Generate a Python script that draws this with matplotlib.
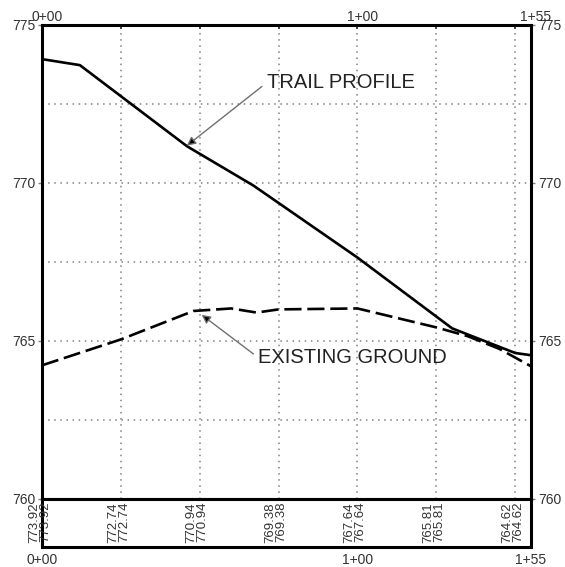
import matplotlib
matplotlib.use("Agg")
import matplotlib.pyplot as plt
from matplotlib.transforms import offset_copy, ScaledTranslation

plt.rcParams['font.family'] = ['Liberation Sans', 'DejaVu Sans']

# trail profile (proposed grade), station in ft, elevation in ft
trail_sta = [0, 12, 46, 67, 100, 130, 150, 155]
trail_elev = [773.92, 773.73, 771.16, 769.92, 767.64, 765.40, 764.62, 764.55]

# existing ground
ground_sta = [0, 25, 48, 60, 68, 75, 100, 125, 135, 145, 155]
ground_elev = [764.23, 765.05, 765.95, 766.03, 765.90, 766.00, 766.03, 765.43, 765.15, 764.75, 764.20]

# elevations printed in the band under the profile
band_sta = [0, 25, 50, 75, 100, 125, 150]
band_vals = ["773.92", "772.74", "770.94", "769.38", "767.64", "765.81", "764.62"]

elev_ticks = [760, 765, 770, 775]
sta_ticks = [0, 100, 155]
sta_labels = ["0+00", "1+00", "1+55"]

W, H = 565, 567
fig = plt.figure(figsize=(W / 100, H / 100), dpi=100)
ax = fig.add_axes([42 / W, 1 - 499 / H, (531 - 42) / W, (499 - 25) / H])
band = fig.add_axes([42 / W, 1 - 547 / H, (531 - 42) / W, (547 - 499) / H])

ax.set_xlim(0, 155)
ax.set_ylim(760, 775)

# dotted grid
for s in range(25, 155, 25):
    ax.axvline(s, color='#808080', lw=1.1, ls=(0, (1, 3)), zorder=1)
for e in [762.5, 765, 767.5, 770, 772.5]:
    ax.axhline(e, color='#808080', lw=1.1, ls=(0, (1, 3)), zorder=1)

ax.plot(trail_sta, trail_elev, color='black', lw=1.9, zorder=3)
ax.plot(ground_sta, ground_elev, color='black', lw=1.9, dashes=(6.5, 2.2), zorder=3)

arrow = dict(arrowstyle='-|>', ec='#707070', fc='black', lw=1.0,
             mutation_scale=13, shrinkA=2, shrinkB=0, relpos=(0, 0.5))
ax.annotate("TRAIL PROFILE", xy=(45.9, 771.18), xytext=(71.3, 773.18),
            fontsize=14.5, color='#222222', ha='left', va='center', arrowprops=arrow)
ax.annotate("EXISTING GROUND", xy=(50.6, 765.83), xytext=(68.6, 764.47),
            fontsize=14.5, color='#222222', ha='left', va='center', arrowprops=arrow)

# axes ticks
ax.set_yticks(elev_ticks)
ax.set_yticklabels([str(v) for v in elev_ticks])
ax.tick_params(axis='y', which='both', left=True, right=True, labelleft=True,
               labelright=True, length=3, width=1, color='#808080',
               labelsize=10, labelcolor='#333333', pad=2)
ax.set_xticks(list(range(0, 155, 25)) + [155])
ax.set_xticklabels(["0+00", "", "", "", "1+00", "", "", "1+55"])
ax.tick_params(axis='x', top=True, bottom=False, labeltop=True, labelbottom=False,
               direction='in', length=3, width=1.2, color='#333333',
               labelsize=10, labelcolor='#333333', pad=1)
for lab in ax.get_xticklabels():
    lab.set_transform(lab.get_transform() + ScaledTranslation(5 / 100, 0, fig.dpi_scale_trans))

for sp in ax.spines.values():
    sp.set_linewidth(2.2)

# elevation band
band.set_xlim(0, 155)
band.set_ylim(0, 1)
band.set_yticks([])
band.set_xticks(sta_ticks)
band.set_xticklabels(sta_labels)
band.tick_params(axis='x', length=0, labelsize=10, labelcolor='#333333', pad=4)
for sp in band.spines.values():
    sp.set_linewidth(2.2)

t1 = offset_copy(band.transData, fig=fig, x=-8, y=0, units='dots')
t2 = offset_copy(band.transData, fig=fig, x=3, y=1, units='dots')
for s, v in zip(band_sta, band_vals):
    for tr in (t1, t2):
        band.text(s, 0.5, v, transform=tr, rotation=90, ha='center', va='center',
                  fontsize=9.5, color='#333333', clip_on=False)

fig.savefig("out.png", dpi=100)
